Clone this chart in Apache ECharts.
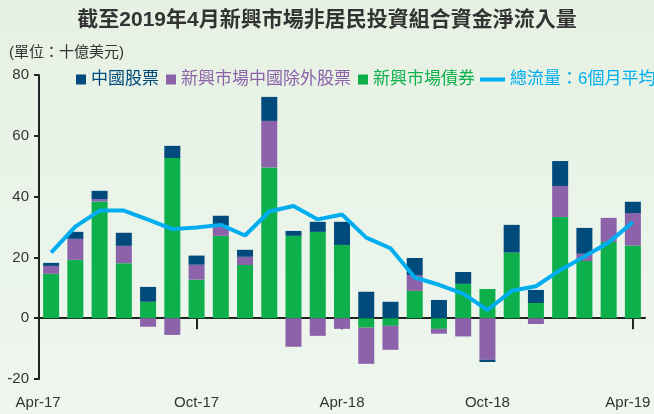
<!DOCTYPE html>
<html>
<head>
<meta charset="utf-8">
<script src="https://cdn.jsdelivr.net/npm/echarts@6/dist/echarts.min.js"></script>
<style>
html, body { margin: 0; padding: 0; }
#chart { width: 654px; height: 414px; }
</style>
</head>
<body>
<div id="chart"></div>
<script>
var months = ['Apr-17','May-17','Jun-17','Jul-17','Aug-17','Sep-17','Oct-17','Nov-17','Dec-17',
  'Jan-18','Feb-18','Mar-18','Apr-18','May-18','Jun-18','Jul-18','Aug-18','Sep-18','Oct-18',
  'Nov-18','Dec-18','Jan-19','Feb-19','Mar-19','Apr-19']

// 新興市場債券
var emBonds = [14.6, 19.2, 38.4, 18.1, 5.4, 52.7, 12.7, 27.1, 17.5, 49.6, 27.1, 28.4, 24.1,
  -3.1, -2.5, 9.0, -3.5, 11.3, 9.6, 21.6, 5.0, 33.3, 18.8, 25.1, 23.9]
// 新興市場中國除外股票
var emExChina = [2.6, 6.9, 0.8, 5.7, -2.8, -5.5, 4.9, 3.3, 2.7, 15.3, -9.4, -5.8, -3.5,
  -11.9, -7.9, 5.2, -1.6, -6.0, -13.7, 0, -1.9, 10.2, 2.4, 7.9, 10.7]
// 中國股票
var chinaEq = [1.0, 2.3, 2.7, 4.3, 4.9, 4.0, 3.0, 3.3, 2.3, 7.9, 1.6, 3.3, 7.6,
  8.7, 5.4, 5.6, 6.0, 3.9, -0.7, 9.1, 4.3, 8.2, 8.5, 0, 3.7]
// 總流量：6個月平均
var avg6m = [21.6, 30.1, 35.4, 35.4, 32.4, 29.3, 29.8, 30.7, 27.2, 35.1, 36.9, 32.5, 34.1,
  26.5, 23.0, 13.4, 11.0, 8.1, 2.7, 9.0, 10.5, 15.8, 20.3, 24.9, 31.6]

var yTicks = [-20, 0, 20, 40, 60, 80]

var NAVY = '#004a7c', PURPLE = '#8c62aa', GREEN = '#0db04b', CYAN = '#00aeef'
var FONT = '"Liberation Sans", "Noto Sans CJK TC", sans-serif'

var chart = echarts.init(document.getElementById('chart'))

var option = {
  backgroundColor: new echarts.graphic.LinearGradient(0, 0, 0, 1, [
    { offset: 0, color: '#e6f1e3' },
    { offset: 1, color: '#eef6ee' }
  ]),
  animation: false,
  textStyle: { fontFamily: FONT },
  title: [
    {
      text: '截至2019年4月新興市場非居民投資組合資金淨流入量',
      left: 'center', top: 5,
      textStyle: { fontSize: 21, fontWeight: 'bold', color: '#333', fontFamily: FONT }
    },
    {
      text: '(單位：十億美元)',
      left: 4, top: 40,
      textStyle: { fontSize: 15, fontWeight: 'normal', color: '#333', fontFamily: FONT }
    }
  ],
  legend: [
    {
      left: 71, top: 66,
      itemWidth: 10, itemHeight: 10, itemGap: 7,
      icon: 'rect',
      textStyle: { fontSize: 17, fontFamily: FONT },
      data: [
        { name: '中國股票', textStyle: { color: NAVY } },
        { name: '新興市場中國除外股票', textStyle: { color: PURPLE } },
        { name: '新興市場債券', textStyle: { color: GREEN } }
      ]
    },
    {
      left: 475, top: 66,
      itemWidth: 25, itemHeight: 4,
      icon: 'rect',
      textStyle: { fontSize: 17, fontFamily: FONT, color: CYAN },
      data: [{ name: '總流量：6個月平均' }]
    }
  ],
  grid: { left: 39, right: 9, top: 75, bottom: 35, containLabel: false },
  xAxis: [
    {
      type: 'category',
      data: months,
      axisLine: { onZero: true, lineStyle: { color: '#222', width: 2 } },
      axisTick: {
        show: true, length: 11, alignWithLabel: true,
        interval: function (i) { return i > 0 && i % 6 === 0 },
        lineStyle: { color: '#222', width: 2 }
      },
      axisLabel: { show: false }
    },
    {
      type: 'category',
      data: months,
      position: 'bottom',
      axisLine: { show: false, onZero: false },
      axisTick: { show: false },
      axisLabel: {
        interval: 5, margin: 16, fontSize: 15, color: '#333', fontFamily: FONT,
        formatter: function (v, i) {
          if (i === 0) return '{a|' + v + '}'
          if (i === months.length - 1) return '{b|' + v + '}'
          return v
        },
        rich: {
          a: { fontSize: 15, color: '#333', padding: [0, 26, 0, 0] },
          b: { fontSize: 15, color: '#333', padding: [0, 10, 0, 0] }
        }
      }
    }
  ],
  yAxis: {
    type: 'value',
    min: yTicks[0], max: yTicks[yTicks.length - 1], interval: 20,
    axisLine: { show: true, lineStyle: { color: '#222', width: 2 } },
    axisTick: { show: true, length: 5, lineStyle: { color: '#222', width: 2 } },
    axisLabel: { fontSize: 15, color: '#333', margin: 10, fontFamily: FONT },
    splitLine: { show: false }
  },
  series: [
    {
      name: '新興市場債券', type: 'bar', stack: 'flow', barWidth: 16,
      itemStyle: { color: GREEN }, data: emBonds
    },
    {
      name: '新興市場中國除外股票', type: 'bar', stack: 'flow', barWidth: 16,
      itemStyle: { color: PURPLE }, data: emExChina
    },
    {
      name: '中國股票', type: 'bar', stack: 'flow', barWidth: 16,
      itemStyle: { color: NAVY }, data: chinaEq
    },
    {
      name: '總流量：6個月平均', type: 'line', symbol: 'none',
      lineStyle: { color: CYAN, width: 4 }, itemStyle: { color: CYAN },
      z: 5, data: avg6m
    }
  ]
}

chart.setOption(option)
</script>
</body>
</html>
